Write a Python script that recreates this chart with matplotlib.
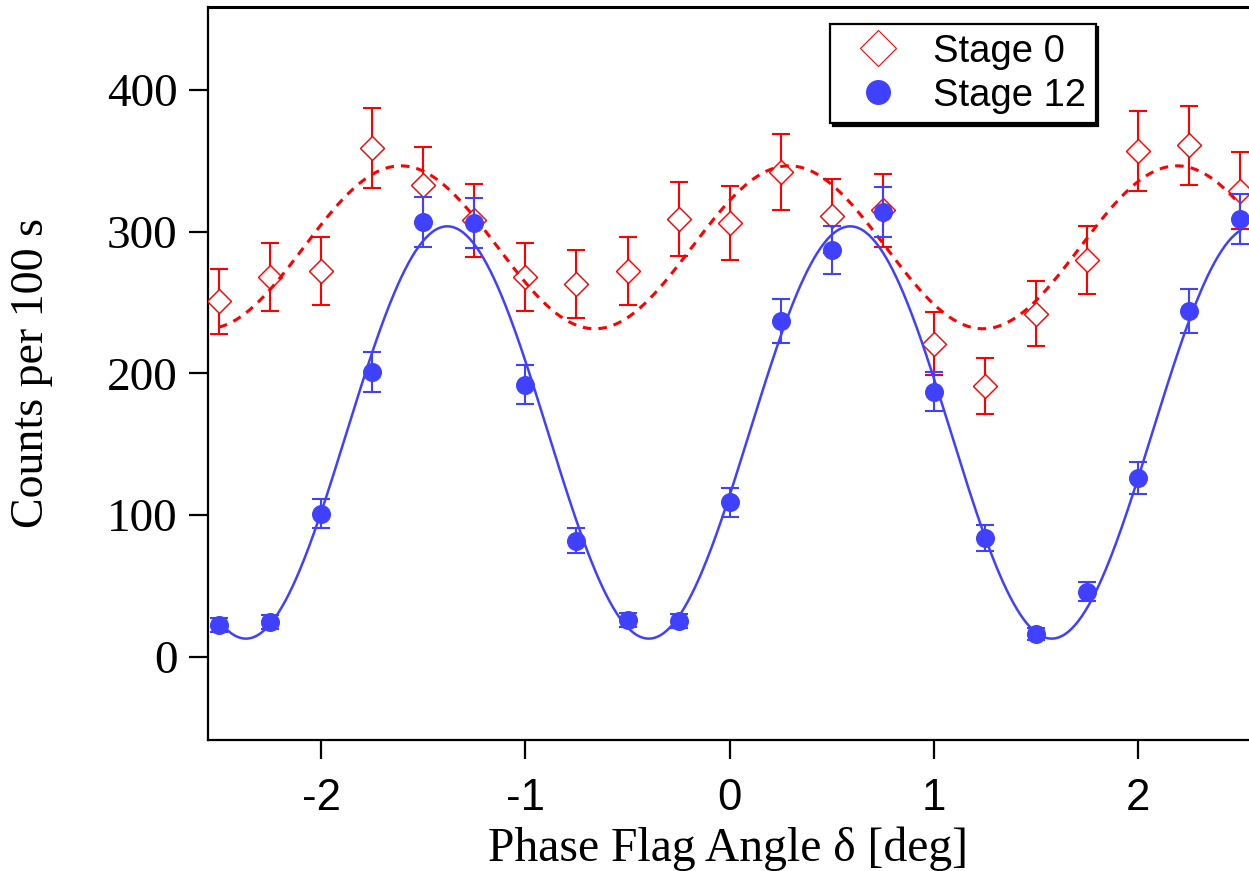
import numpy as np
import matplotlib
matplotlib.use("Agg")
import matplotlib.pyplot as plt
from matplotlib.lines import Line2D

# ---- data ----
phase = [-2.5, -2.25, -2.0, -1.75, -1.5, -1.25, -1.0, -0.75, -0.5, -0.25, 0.0,
         0.25, 0.5, 0.75, 1.0, 1.25, 1.5, 1.75, 2.0, 2.25, 2.5]
stage0 = [251, 268, 272, 359, 333, 308, 268, 263, 272, 309, 306,
          342, 311, 315, 221, 191, 242, 280, 357, 361, 329]
stage0_err = [23, 24, 24, 28, 27, 26, 24, 24, 24, 26, 26,
              27, 26, 26, 22, 20, 23, 24, 28, 28, 27]
stage12 = [22.5, 24.5, 101, 201, 307, 306, 192, 82, 26, 25, 109,
           237, 287, 314, 187, 84, 16, 46, 126, 244, 309]
stage12_err = [4.7, 5.0, 10.0, 14.2, 17.5, 17.5, 13.9, 9.1, 5.1, 5.0, 10.4,
               15.4, 16.9, 17.7, 13.7, 9.2, 4.0, 6.8, 11.2, 15.6, 17.5]

# fitted sinusoid parameters (mean, amplitude, period, peak position)
fit0 = dict(mean=289.0, amp=57.5, period=1.90, peak=0.29)
fit12 = dict(mean=158.3, amp=145.5, period=1.972, peak=0.59)

labels = ["Stage 0", "Stage 12"]
xticks = [-2, -1, 0, 1, 2]
yticks = [0, 100, 200, 300, 400]

RED = "#ff0000"
BLUE = "#4040ff"

def model(x, p):
    return p["mean"] + p["amp"] * np.cos(2 * np.pi * (x - p["peak"]) / p["period"])

fig = plt.figure(figsize=(12.49, 8.71), dpi=100)
ax = fig.add_axes([207.5 / 1249, (871 - 739.5) / 871, 1 - 207.5 / 1249, (739.5 - 7) / 871])

xs = np.linspace(min(phase), max(phase), 600)

# Stage 0
ax.errorbar(phase, stage0, yerr=stage0_err, fmt="none", ecolor=RED,
            elinewidth=1.5, capsize=6.4, capthick=1.5, zorder=2)
ax.plot(phase, stage0, ls="none", marker="D", ms=12.2, mfc="white",
        mec=RED, mew=0.8, zorder=3)
ax.plot(xs, model(xs, fit0), color=RED, lw=2.2, dashes=(2.8, 2.3), zorder=4)
ax.plot(phase, stage0, ls="none", marker="D", ms=12.2, mfc="none",
        mec=RED, mew=0.8, zorder=4)

# Stage 12
ax.errorbar(phase, stage12, yerr=stage12_err, fmt="none", ecolor=BLUE,
            elinewidth=1.5, capsize=6.4, capthick=1.5, zorder=5)
ax.plot(xs, model(xs, fit12), color=BLUE, lw=1.8, zorder=6)
ax.plot(phase, stage12, ls="none", marker="o", ms=13.7, mfc=BLUE,
        mec=BLUE, mew=0, zorder=7)

ax.set_xlim(-2.556, 2.542)
ax.set_ylim(-58.4, 458.6)
ax.set_xticks(xticks)
ax.set_yticks(yticks)
ax.set_xticklabels([str(t) for t in xticks])
ax.set_yticklabels([str(t) for t in yticks])

for s in ["left", "bottom", "top"]:
    ax.spines[s].set_linewidth(1.6)
ax.spines["right"].set_visible(False)
ax.spines["top"].set_linewidth(2.2)

ax.tick_params(axis="both", direction="out", length=13.5, width=1.6)
ax.tick_params(axis="x", pad=14)
ax.tick_params(axis="y", pad=8)
for lab in ax.get_xticklabels():
    lab.set_fontfamily("Liberation Sans")
    lab.set_fontsize(31.5)
for lab in ax.get_yticklabels():
    lab.set_fontfamily("Liberation Serif")
    lab.set_fontsize(34)

ax.set_xlabel("Phase Flag Angle δ [deg]", fontfamily=["Liberation Serif", "DejaVu Serif"],
              fontsize=34.3, labelpad=5.5)
ax.set_ylabel("Counts per 100 s", fontfamily="Liberation Serif", fontsize=33, labelpad=39)

handles = [
    Line2D([], [], ls="none", marker="D", ms=18.3, mfc="none", mec=RED, mew=0.8),
    Line2D([], [], ls="none", marker="o", ms=18, mfc=BLUE, mec=BLUE, mew=0),
]
leg = ax.legend(handles, labels, loc="upper left", bbox_to_anchor=(0.5977, 0.9768),
                borderaxespad=0, prop={"family": "Liberation Sans", "size": 27.5},
                frameon=True, fancybox=False, edgecolor="black", framealpha=1,
                borderpad=0.25, handlelength=2.0, handletextpad=0.45, labelspacing=0.21,
                shadow={"color": "black", "alpha": 1})
leg.get_frame().set_linewidth(1.6)
leg.set_zorder(10)

fig.savefig("out.png", dpi=100)
